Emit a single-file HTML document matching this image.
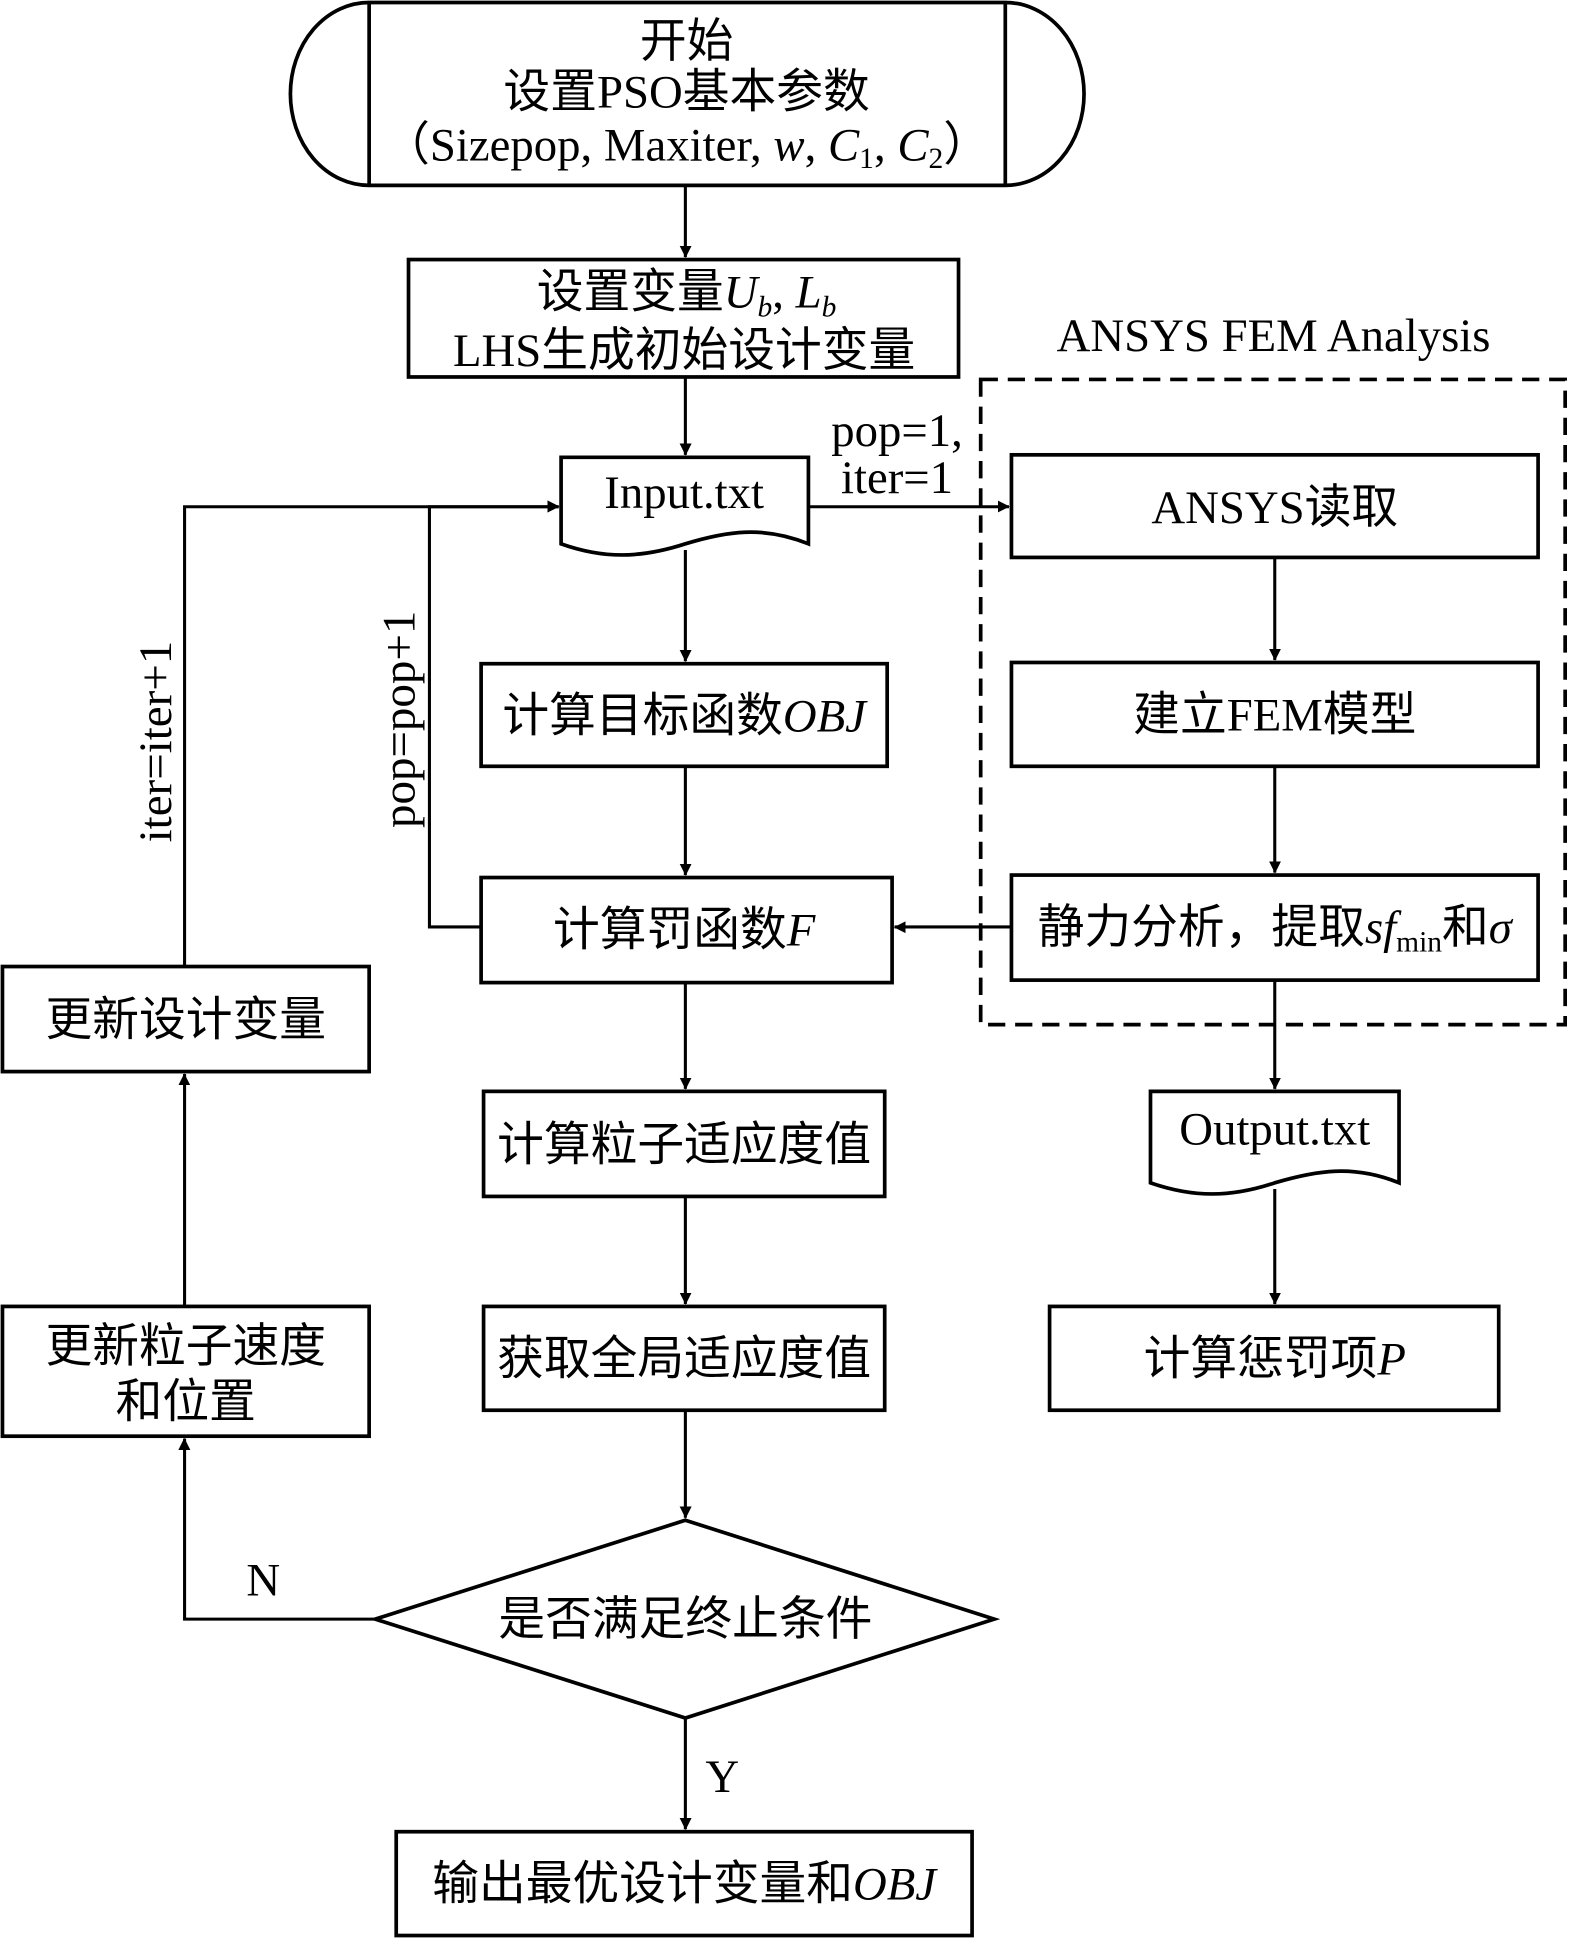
<!DOCTYPE html>
<html><head><meta charset="utf-8"><style>
html,body{margin:0;padding:0;background:#fff;}
svg{display:block;}
text{font-family:"Liberation Serif","Noto Sans CJK SC","Noto Serif CJK SC",serif;font-size:38px;fill:#000;}
.i{font-style:italic;}
</style></head><body>
<svg width="1575" height="1938" viewBox="0 0 1280 1568" preserveAspectRatio="none" xmlns="http://www.w3.org/2000/svg">
<defs><marker id="a" markerWidth="10" markerHeight="10" refX="9" refY="5" orient="auto" markerUnits="userSpaceOnUse"><path d="M0,0 L10,5 L0,10 z" fill="#000" transform="scale(1.6) translate(-4,-2)"/></marker></defs>
<g fill="none" stroke="#000" stroke-width="3">
<path d="M300,2 H817 A64,74 0 0 1 817,150 H300 A64,74 0 0 1 300,2 Z"/>
<line x1="300" y1="2" x2="300" y2="150"/><line x1="817" y1="2" x2="817" y2="150"/>
<rect x="332" y="210" width="447" height="95"/>
<path d="M456,370 H657 V440 C620,425 590,430 557,440 C520,452 490,452 456,440 Z"/>
<rect x="797" y="307" width="475" height="522" stroke-dasharray="14,8"/>
<rect x="822" y="368" width="428" height="83"/>
<rect x="822" y="536" width="428" height="84"/>
<rect x="822" y="708" width="428" height="85"/>
<path d="M935,883 H1137 V957 C1100,942 1070,947 1036,957 C1000,969 970,969 935,957 Z"/>
<rect x="853" y="1057" width="365" height="84"/>
<rect x="391" y="537" width="330" height="83"/>
<rect x="391" y="710" width="334" height="85"/>
<rect x="393" y="883" width="326" height="85"/>
<rect x="393" y="1057" width="326" height="84"/>
<path d="M557,1230 L808,1310 L557,1390 L305,1310 Z"/>
<rect x="2" y="1057" width="298" height="105"/>
<rect x="2" y="782" width="298" height="85"/>
<rect x="322" y="1482" width="468" height="84"/>
</g>
<g stroke="#000" stroke-width="2.5" fill="none" marker-end="url(#a)">
<line x1="557" y1="150" x2="557" y2="208"/>
<line x1="557" y1="305" x2="557" y2="368"/>
<line x1="657" y1="410" x2="820" y2="410"/>
<line x1="1036" y1="451" x2="1036" y2="534"/>
<line x1="1036" y1="620" x2="1036" y2="706"/>
<line x1="822" y1="750" x2="727" y2="750"/>
<line x1="1036" y1="793" x2="1036" y2="881"/>
<line x1="1036" y1="962" x2="1036" y2="1055"/>
<line x1="557" y1="445" x2="557" y2="535"/>
<line x1="557" y1="620" x2="557" y2="708"/>
<path d="M391,750 H349 V410 H454"/>
<line x1="557" y1="795" x2="557" y2="881"/>
<line x1="557" y1="968" x2="557" y2="1055"/>
<line x1="557" y1="1141" x2="557" y2="1228"/>
<path d="M305,1310 H150 V1164"/>
<line x1="150" y1="1057" x2="150" y2="869"/>
<path d="M150,782 V410 H454"/>
<line x1="557" y1="1390" x2="557" y2="1480"/>
</g>
<g text-anchor="middle">
<text x="558" y="46">开始</text>
<text x="558" y="87">设置PSO基本参数</text>
<text x="558" y="130">（Sizepop, Maxiter, <tspan class="i">w</tspan>, <tspan class="i">C</tspan><tspan font-size="24" dy="6">1</tspan><tspan dy="-6">, </tspan><tspan class="i">C</tspan><tspan font-size="24" dy="6">2</tspan><tspan dy="-6">）</tspan></text>
<text x="558" y="249">设置变量<tspan class="i">U</tspan><tspan class="i" font-size="24" dy="7">b</tspan><tspan dy="-7">, </tspan><tspan class="i">L</tspan><tspan class="i" font-size="24" dy="7">b</tspan></text>
<text x="556" y="296">LHS生成初始设计变量</text>
<text x="556" y="411">Input.txt</text>
<text x="1035" y="284">ANSYS FEM Analysis</text>
<text x="1036" y="423">ANSYS读取</text>
<text x="1036" y="591">建立FEM模型</text>
<text x="1036" y="763">静力分析，提取<tspan class="i">sf</tspan><tspan font-size="24" dy="7">min</tspan><tspan dy="-7">和</tspan><tspan class="i">σ</tspan></text>
<text x="1036" y="926">Output.txt</text>
<text x="1036" y="1112">计算惩罚项<tspan class="i">P</tspan></text>
<text x="556" y="592">计算目标函数<tspan class="i">OBJ</tspan></text>
<text x="556" y="765">计算罚函数<tspan class="i">F</tspan></text>
<text x="556" y="939">计算粒子适应度值</text>
<text x="556" y="1112">获取全局适应度值</text>
<text x="557" y="1323">是否满足终止条件</text>
<text x="151" y="1102">更新粒子速度</text>
<text x="151" y="1147">和位置</text>
<text x="151" y="838">更新设计变量</text>
<text x="556" y="1537">输出最优设计变量和<tspan class="i">OBJ</tspan></text>
<text x="214" y="1291">N</text>
<text x="587" y="1450">Y</text>
<text x="729" y="361">pop=1,</text>
<text x="729" y="399">iter=1</text>
<text transform="translate(337,582) rotate(-90)">pop=pop+1</text>
<text transform="translate(139,600) rotate(-90)">iter=iter+1</text>
</g>
</svg>
</body></html>
